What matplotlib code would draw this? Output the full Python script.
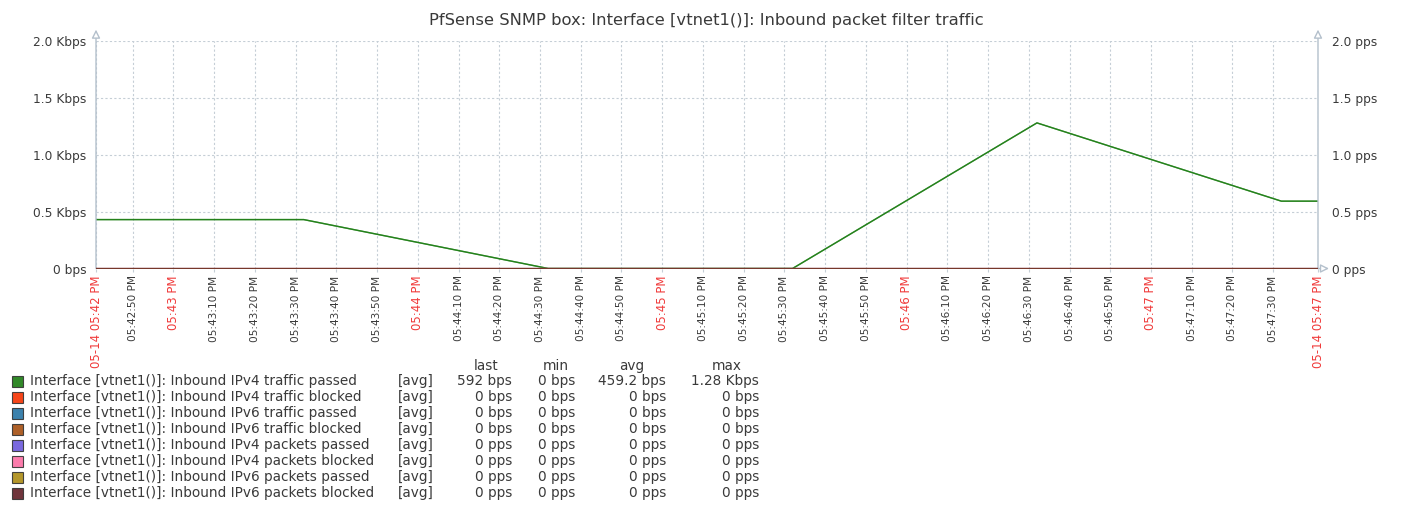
import matplotlib
matplotlib.use("Agg")
import matplotlib.pyplot as plt
from datetime import datetime, timedelta

# ---------------- data ----------------
title = "PfSense SNMP box: Interface [vtnet1()]: Inbound packet filter traffic"
window_start = "2024-05-14 17:42:41"
window_end = "2024-05-14 17:47:41"

sample_times = ["2024-05-14 17:42:32", "2024-05-14 17:43:32", "2024-05-14 17:44:32",
                "2024-05-14 17:45:32", "2024-05-14 17:46:32", "2024-05-14 17:47:32",
                "2024-05-14 17:47:41"]
ipv4_traffic_passed = [430, 430, 0, 0, 1280, 592, 592]          # bps
ipv4_traffic_blocked = [0, 0, 0, 0, 0, 0, 0]
ipv6_traffic_passed = [0, 0, 0, 0, 0, 0, 0]
ipv6_traffic_blocked = [0, 0, 0, 0, 0, 0, 0]
ipv4_packets_passed = [0, 0, 0, 0, 0, 0, 0]                     # pps
ipv4_packets_blocked = [0, 0, 0, 0, 0, 0, 0]
ipv6_packets_passed = [0, 0, 0, 0, 0, 0, 0]
ipv6_packets_blocked = [0, 0, 0, 0, 0, 0, 0]

series_names = [
    "Interface [vtnet1()]: Inbound IPv4 traffic passed",
    "Interface [vtnet1()]: Inbound IPv4 traffic blocked",
    "Interface [vtnet1()]: Inbound IPv6 traffic passed",
    "Interface [vtnet1()]: Inbound IPv6 traffic blocked",
    "Interface [vtnet1()]: Inbound IPv4 packets passed",
    "Interface [vtnet1()]: Inbound IPv4 packets blocked",
    "Interface [vtnet1()]: Inbound IPv6 packets passed",
    "Interface [vtnet1()]: Inbound IPv6 packets blocked",
]
series_colors = ["#1A7C11", "#F63100", "#2774A4", "#A54F10",
                 "#6C59DC", "#FC6EA3", "#AC8C14", "#611F27"]
legend_last = ["592 bps", "0 bps", "0 bps", "0 bps", "0 pps", "0 pps", "0 pps", "0 pps"]
legend_min = ["0 bps", "0 bps", "0 bps", "0 bps", "0 pps", "0 pps", "0 pps", "0 pps"]
legend_avg = ["459.2 bps", "0 bps", "0 bps", "0 bps", "0 pps", "0 pps", "0 pps", "0 pps"]
legend_max = ["1.28 Kbps", "0 bps", "0 bps", "0 bps", "0 pps", "0 pps", "0 pps", "0 pps"]

left_ticks = [0, 500, 1000, 1500, 2000]
left_labels = ["0 bps", "0.5 Kbps", "1.0 Kbps", "1.5 Kbps", "2.0 Kbps"]
right_ticks = [0, 0.5, 1.0, 1.5, 2.0]
right_labels = ["0 pps", "0.5 pps", "1.0 pps", "1.5 pps", "2.0 pps"]

# ---------------- figure ----------------
W, H = 1415, 511
fig = plt.figure(figsize=(W / 100, H / 100), dpi=100)
plt.rcParams['font.family'] = ['DejaVu Sans']
TXT = "#3a3a3a"
RED = "#f03a3a"
GRID = "#c5ced6"
AXC = "#b4c0cc"
LFS = 9.8

x0, x1 = 96, 1318
y0, y1 = 268.5, 41
ax = fig.add_axes([x0 / W, 1 - y0 / H, (x1 - x0) / W, (y0 - y1) / H])
ax2 = ax.twinx()

fmt = "%Y-%m-%d %H:%M:%S"
t = [datetime.strptime(s, fmt) for s in sample_times]
ws = datetime.strptime(window_start, fmt)
we = datetime.strptime(window_end, fmt)

left_series = [ipv4_traffic_passed, ipv4_traffic_blocked, ipv6_traffic_passed, ipv6_traffic_blocked]
right_series = [ipv4_packets_passed, ipv4_packets_blocked, ipv6_packets_passed, ipv6_packets_blocked]
for vals, c in zip(left_series[::-1], series_colors[:4][::-1]):
    ax.plot(t, vals, color=c, lw=1.0, alpha=0.85, zorder=3)
ax.plot(t, left_series[0], color=series_colors[0], lw=1.0, alpha=0.7, zorder=4)
for vals, c in zip(right_series, series_colors[4:]):
    ax2.plot(t, vals, color=c, lw=1.6, alpha=0.75, zorder=3)

ax.set_xlim(ws, we)
ax.set_ylim(0, 2000)
ax2.set_ylim(0, 2.0)

# ticks
ticks = []
tt = ws.replace(second=50)
while tt < we - timedelta(seconds=5):
    ticks.append(tt)
    tt += timedelta(seconds=10)
all_ticks = [ws] + ticks + [we]
ax.set_xticks(all_ticks)
labels = []
for tk in all_ticks:
    if tk in (ws, we):
        labels.append(tk.strftime("%m-%d %I:%M %p"))
    elif tk.second == 0:
        labels.append(tk.strftime("%I:%M %p"))
    else:
        labels.append(tk.strftime("%I:%M:%S %p"))
ax.set_xticklabels(labels, rotation=90)
for tk, lab in zip(all_ticks, ax.get_xticklabels()):
    if tk in (ws, we) or tk.second == 0:
        lab.set_color(RED)
        lab.set_fontsize(8.5)
    else:
        lab.set_color(TXT)
        lab.set_fontsize(7.6)
ax.tick_params(axis='x', length=2, color=GRID, pad=3)

ax.set_yticks(left_ticks)
ax.set_yticklabels(left_labels, fontsize=8.8, color=TXT)
ax.tick_params(axis='y', length=0, pad=7)
ax2.set_yticks(right_ticks)
ax2.set_yticklabels(right_labels, fontsize=8.8, color=TXT)
ax2.tick_params(axis='y', length=0, pad=10)

ax.grid(True, color=GRID, linestyle=(0, (2, 2)), lw=0.8)
ax.set_axisbelow(True)
for a in (ax, ax2):
    for s in a.spines.values():
        s.set_visible(False)

# axis lines with hollow arrows
arrow = dict(arrowstyle='-|>,head_length=0.5,head_width=0.25', color=AXC, lw=1.0,
             fc='white', shrinkA=0, shrinkB=0)
ax.annotate("", xy=(0, 1.05), xytext=(0, 0), xycoords='axes fraction', arrowprops=arrow, zorder=5)
ax.annotate("", xy=(1, 1.05), xytext=(1, 0), xycoords='axes fraction', arrowprops=arrow, zorder=5)
ax.annotate("", xy=(1.009, 0), xytext=(1, 0), xycoords='axes fraction', arrowprops=arrow, zorder=5)

fig.text(706 / W, 1 - 21 / H, title, ha='center', va='center', fontsize=11.8, color=TXT)

# legend table
row0 = 381
dy = 16
hdr_y = 366
for xx, lab in zip([486, 556, 632, 727], ["last", "min", "avg", "max"]):
    fig.text(xx / W, 1 - hdr_y / H, lab, ha='center', va='center', fontsize=LFS, color=TXT)
for i, name in enumerate(series_names):
    yy = 1 - (row0 + i * dy) / H
    fig.patches.append(plt.Rectangle((12 / W, yy - 5.5 / H), 11 / W, 11 / H,
                                     transform=fig.transFigure, facecolor=series_colors[i],
                                     alpha=0.9, edgecolor='#333333', lw=0.8))
    fig.text(30 / W, yy, name, ha='left', va='center', fontsize=LFS, color=TXT)
    fig.text(398 / W, yy, "[avg]", ha='left', va='center', fontsize=LFS, color=TXT)
    fig.text(512 / W, yy, legend_last[i], ha='right', va='center', fontsize=LFS, color=TXT)
    fig.text(575 / W, yy, legend_min[i], ha='right', va='center', fontsize=LFS, color=TXT)
    fig.text(666 / W, yy, legend_avg[i], ha='right', va='center', fontsize=LFS, color=TXT)
    fig.text(759 / W, yy, legend_max[i], ha='right', va='center', fontsize=LFS, color=TXT)

fig.savefig("out.png", dpi=100, facecolor='white')
